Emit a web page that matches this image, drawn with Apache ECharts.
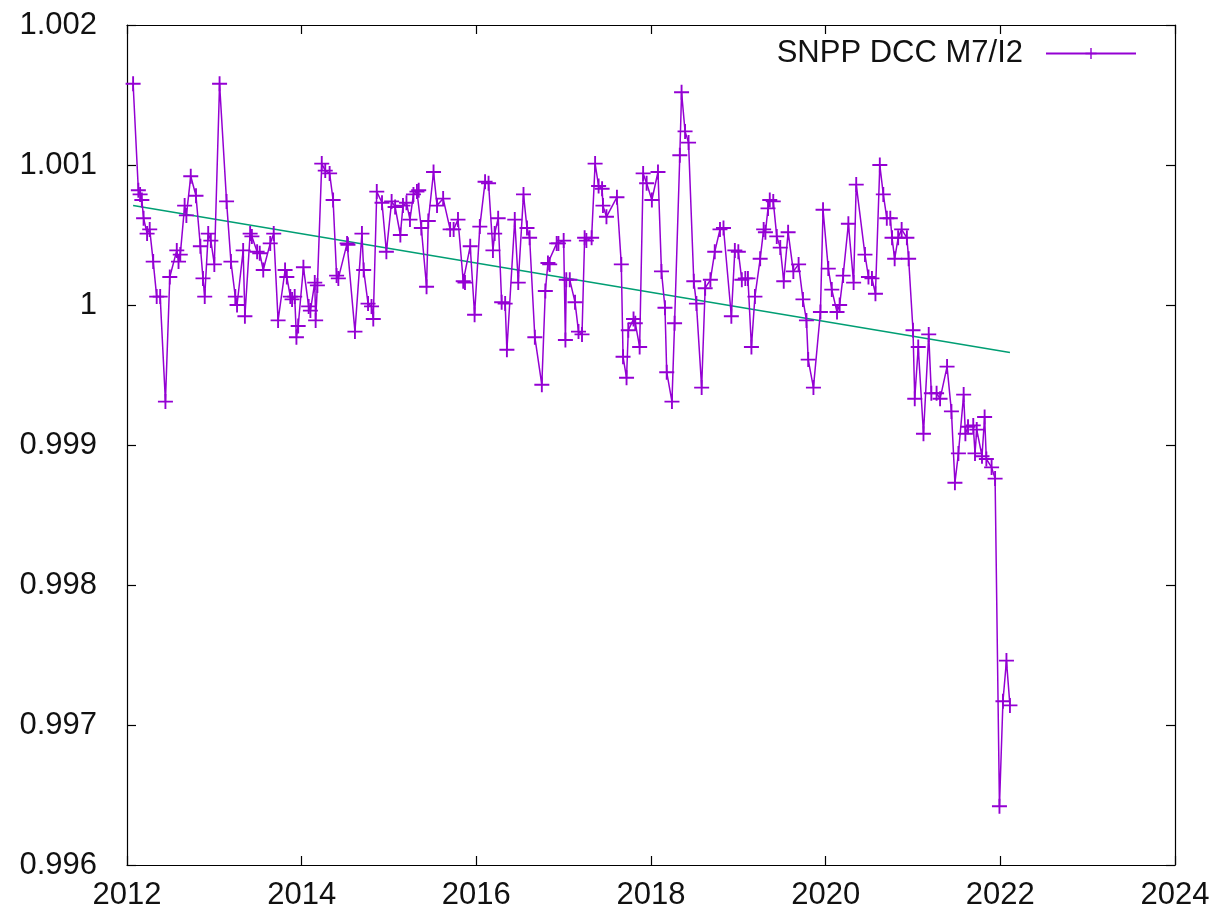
<!DOCTYPE html>
<html>
<head>
<meta charset="utf-8">
<script src="https://cdn.jsdelivr.net/npm/echarts@6/dist/echarts.min.js"></script>
<style>
html,body{margin:0;padding:0;background:#fff;}
#chart{width:1214px;height:918px;}
</style>
</head>
<body>
<div id="chart"></div>
<script>
// Decimal year of each SNPP DCC M7/I2 sample
const years = [
2012.07,2012.13,2012.15,2012.17,2012.19,2012.23,2012.26,2012.30,2012.34,2012.38,
2012.44,2012.49,2012.57,2012.59,2012.61,2012.66,2012.68,2012.73,2012.79,2012.84,
2012.87,2012.89,2012.93,2012.96,2013.00,2013.06,2013.14,2013.19,2013.24,2013.26,
2013.33,2013.35,2013.41,2013.43,2013.49,2013.52,2013.56,2013.64,2013.68,2013.73,
2013.81,2013.83,2013.87,2013.89,2013.92,2013.94,2013.96,2014.02,2014.08,2014.10,
2014.15,2014.16,2014.18,2014.23,2014.27,2014.32,2014.36,2014.40,2014.42,2014.52,
2014.53,2014.61,2014.69,2014.71,2014.76,2014.80,2014.82,2014.86,2014.92,2014.97,
2015.03,2015.07,2015.13,2015.16,2015.20,2015.24,2015.28,2015.32,2015.34,2015.37,
2015.43,2015.45,2015.51,2015.55,2015.62,2015.70,2015.74,2015.79,2015.85,2015.87,
2015.93,2015.98,2016.04,2016.10,2016.14,2016.19,2016.21,2016.25,2016.29,2016.33,
2016.35,2016.44,2016.48,2016.54,2016.58,2016.61,2016.67,2016.75,2016.79,2016.82,
2016.84,2016.92,2016.94,2017.00,2017.02,2017.03,2017.07,2017.13,2017.17,2017.21,
2017.24,2017.26,2017.32,2017.36,2017.40,2017.44,2017.45,2017.49,2017.61,2017.66,
2017.68,2017.72,2017.74,2017.80,2017.82,2017.87,2017.91,2017.95,2018.01,2018.08,
2018.12,2018.16,2018.18,2018.24,2018.27,2018.33,2018.35,2018.39,2018.43,2018.49,
2018.52,2018.58,2018.62,2018.68,2018.73,2018.79,2018.83,2018.92,2018.96,2019.00,
2019.04,2019.08,2019.11,2019.15,2019.19,2019.25,2019.29,2019.31,2019.34,2019.36,
2019.40,2019.44,2019.48,2019.52,2019.57,2019.63,2019.69,2019.74,2019.78,2019.80,
2019.86,2019.94,2019.97,2020.03,2020.07,2020.13,2020.16,2020.20,2020.26,2020.32,
2020.35,2020.45,2020.49,2020.53,2020.57,2020.62,2020.66,2020.70,2020.74,2020.76,
2020.79,2020.83,2020.87,2020.93,2020.95,2021.00,2021.02,2021.06,2021.12,2021.18,
2021.21,2021.27,2021.31,2021.39,2021.44,2021.48,2021.52,2021.58,2021.60,2021.63,
2021.69,2021.71,2021.73,2021.79,2021.82,2021.84,2021.90,2021.94,2021.99,
2022.03,2022.07,2022.11
];
// Normalised ratio values, same order as years
const ratios = [
1.00158,1.00082,1.00079,1.00075,1.00062,1.00051,1.00054,1.00031,1.00006,1.00006,
0.99931,1.00020,1.00039,1.00031,1.00036,1.00071,1.00064,1.00092,1.00078,1.00042,
1.00019,1.00006,1.00051,1.00046,1.00029,1.00158,1.00074,1.00031,1.00006,1.00000,
1.00039,0.99992,1.00051,1.00049,1.00038,1.00037,1.00025,1.00044,1.00051,0.99989,
1.00025,1.00020,1.00006,1.00004,1.00006,0.99977,0.99985,1.00027,0.99999,0.99996,
1.00016,0.99989,1.00014,1.00101,1.00096,1.00094,1.00075,1.00021,1.00019,1.00044,
1.00043,0.99981,1.00051,1.00025,1.00001,0.99999,0.99990,1.00081,1.00073,1.00038,
1.00074,1.00070,1.00050,1.00071,1.00073,1.00061,1.00079,1.00081,1.00082,1.00055,
1.00013,1.00060,1.00095,1.00071,1.00076,1.00054,1.00054,1.00061,1.00017,1.00016,
1.00042,0.99993,1.00056,1.00088,1.00087,1.00039,1.00051,1.00062,1.00002,1.00001,
0.99968,1.00061,1.00016,1.00079,1.00055,1.00048,0.99977,0.99943,1.00010,1.00030,
1.00029,1.00044,1.00044,1.00046,0.99975,1.00018,1.00018,1.00002,0.99981,0.99979,
1.00048,1.00046,1.00048,1.00101,1.00085,1.00083,1.00071,1.00063,1.00077,1.00029,
0.99963,0.99948,0.99982,0.99990,0.99987,0.99970,1.00094,1.00087,1.00075,1.00095,
1.00024,0.99998,0.99952,0.99931,0.99987,1.00107,1.00152,1.00124,1.00116,1.00017,
1.00001,0.99941,1.00012,1.00018,1.00038,1.00054,1.00055,0.99992,1.00039,1.00038,
1.00018,1.00019,1.00019,0.99970,1.00006,1.00033,1.00054,1.00052,1.00069,1.00075,
1.00074,1.00049,1.00041,1.00017,1.00052,1.00024,1.00029,1.00004,0.99989,0.99961,
0.99941,0.99995,1.00068,1.00026,1.00011,0.99995,1.00000,1.00021,1.00058,1.00016,
1.00086,1.00036,1.00020,1.00019,1.00008,1.00100,1.00079,1.00062,1.00062,1.00048,
1.00033,1.00048,1.00054,1.00048,1.00033,0.99982,0.99933,0.99970,0.99908,0.99979,
0.99937,0.99937,0.99933,0.99956,0.99924,0.99873,0.99894,0.99936,0.99908,0.99913,
0.99914,0.99894,0.99911,0.99892,0.99920,0.99890,0.99884,0.99876,0.99642,
0.99717,0.99746,0.99714
];
// Linear trend fit end points
const trendYears = [2012.07, 2022.11];
const trendValues = [1.00071, 0.99966];

const seriesName = 'SNPP DCC M7/I2';
const xTicks = [2012, 2014, 2016, 2018, 2020, 2022, 2024];
const yTicks = [0.996, 0.997, 0.998, 0.999, 1, 1.001, 1.002];

const purple = '#9400d3';
const green = '#009e73';
const font = "'Liberation Sans', Arial, Helvetica, sans-serif";
const cross = 'path://M-1,-8L1,-8L1,-1L8,-1L8,1L1,1L1,8L-1,8L-1,1L-8,1L-8,-1L-1,-1Z';

const chart = echarts.init(document.getElementById('chart'), null, {renderer: 'canvas'});
const axisLine = {show: true, lineStyle: {color: '#000', width: 1.2}};
const tickIn = {show: true, inside: true, length: 9, lineStyle: {color: '#000', width: 1.2}};
const fmtY = v => String(parseFloat(Number(v).toFixed(3)));

chart.setOption({
  animation: false,
  backgroundColor: '#fff',
  grid: {left: 127, right: 39, top: 25, bottom: 53, containLabel: false, outerBoundsMode: 'none'},
  legend: {
    data: [seriesName],
    right: 77, top: 38, padding: 0,
    align: 'right',
    itemWidth: 90, itemHeight: 14,
    textStyle: {fontFamily: font, fontSize: 31, color: '#111', padding: [0, 18, 0, 0]}
  },
  xAxis: [{
    type: 'value', min: xTicks[0], max: xTicks[xTicks.length - 1], interval: 2,
    axisLine: axisLine, axisTick: tickIn, splitLine: {show: false},
    axisLabel: {fontFamily: font, fontSize: 31, color: '#111', margin: 15, formatter: v => String(v)}
  }, {
    type: 'value', position: 'top', min: xTicks[0], max: xTicks[xTicks.length - 1], interval: 2,
    axisLine: axisLine, axisTick: tickIn, splitLine: {show: false}, axisLabel: {show: false}
  }],
  yAxis: [{
    type: 'value', min: yTicks[0], max: yTicks[yTicks.length - 1], interval: 0.001,
    axisLine: axisLine, axisTick: tickIn, splitLine: {show: false},
    axisLabel: {fontFamily: font, fontSize: 31, color: '#111', margin: 30, formatter: fmtY}
  }, {
    type: 'value', position: 'right', min: yTicks[0], max: yTicks[yTicks.length - 1], interval: 0.001,
    axisLine: axisLine, axisTick: tickIn, splitLine: {show: false}, axisLabel: {show: false}
  }],
  series: [{
    name: seriesName,
    type: 'line',
    data: years.map((y, i) => [y, ratios[i]]),
    symbol: cross,
    symbolSize: 15,
    showAllSymbol: true,
    lineStyle: {color: purple, width: 1.5},
    itemStyle: {color: purple},
    z: 3
  }, {
    name: 'trend',
    type: 'line',
    data: trendYears.map((y, i) => [y, trendValues[i]]),
    symbol: 'none',
    lineStyle: {color: green, width: 1.5},
    z: 2
  }]
});
</script>
</body>
</html>
